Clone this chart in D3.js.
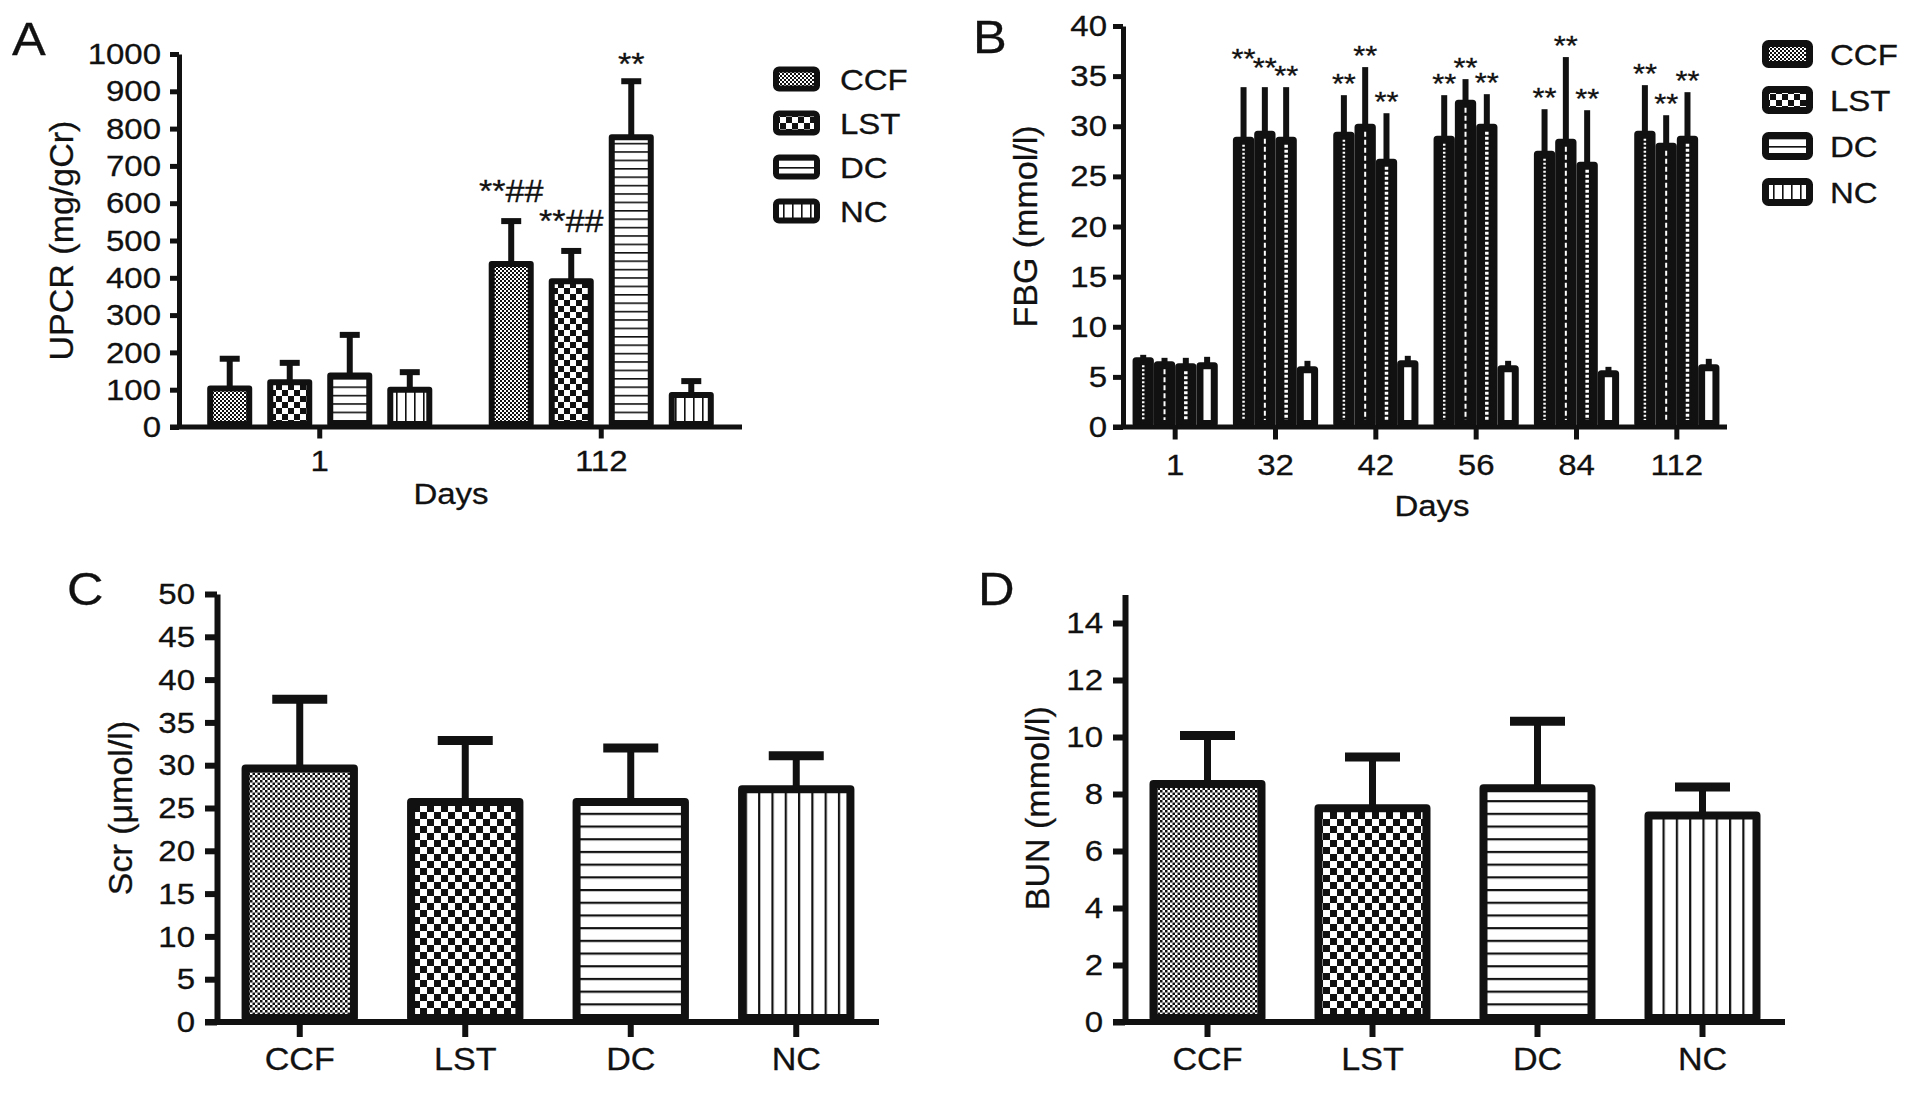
<!DOCTYPE html>
<html>
<head>
<meta charset="utf-8">
<script src="https://cdn.jsdelivr.net/npm/d3@7"></script>
<style>
  body { margin: 0; background: #fff; }
  svg text { font-family: "Liberation Sans", Arial, Helvetica, sans-serif; fill: #111; stroke: #111; stroke-width: 0.3px; }
</style>
</head>
<body>
<svg id="fig" width="1913" height="1099"></svg>
<script>
// ---- data ----
const GROUPS = ["CCF", "LST", "DC", "NC"];

const UPCR_DAYS = ["1", "112"];
const UPCR_MEAN = [[103, 120, 138, 100], [437, 391, 777, 86]];
const UPCR_SD = [[80, 52, 109, 47], [115, 81, 150, 37]];
const UPCR_SIG = [["", "", "", ""], ["**##", "**##", "**", ""]];
const UPCR_TICKS = [0, 100, 200, 300, 400, 500, 600, 700, 800, 900, 1000];

const FBG_DAYS = ["1", "32", "42", "56", "84", "112"];
const FBG_MEAN = [
  [6.6, 6.2, 6.0, 6.1],
  [28.6, 29.2, 28.6, 5.7],
  [29.1, 29.9, 26.4, 6.3],
  [28.7, 32.3, 29.9, 5.8],
  [27.2, 28.4, 26.1, 5.3],
  [29.2, 28.0, 28.7, 5.9]
];
const FBG_SD = [
  [0.6, 0.7, 0.9, 0.9],
  [5.3, 4.7, 5.3, 0.9],
  [4.0, 6.0, 4.9, 0.8],
  [4.4, 2.4, 3.3, 0.8],
  [4.5, 8.5, 5.5, 0.7],
  [4.9, 3.1, 4.7, 0.9]
];
const FBG_SIG = [
  ["", "", "", ""],
  ["**", "**", "**", ""],
  ["**", "**", "**", ""],
  ["**", "**", "**", ""],
  ["**", "**", "**", ""],
  ["**", "**", "**", ""]
];
const FBG_TICKS = [0, 5, 10, 15, 20, 25, 30, 35, 40];

const SCR_MEAN = [29.6, 25.7, 25.7, 27.2];
const SCR_SD = [8.1, 7.2, 6.3, 3.9];
const SCR_TICKS = [0, 5, 10, 15, 20, 25, 30, 35, 40, 45, 50];

const BUN_MEAN = [8.35, 7.5, 8.2, 7.25];
const BUN_SD = [1.7, 1.8, 2.35, 1.0];
const BUN_TICKS = [0, 2, 4, 6, 8, 10, 12, 14];

// ---- drawing ----
const INK = "#111";
const FONT = '"Liberation Sans", Arial, Helvetica, sans-serif';
const SX = 1.1;            // the source figure's lettering is slightly wide
const svg = d3.select("#fig");
const defs = svg.append("defs");

// widen horizontal text around its own anchor
function stretch(sel) {
  sel.each(function () {
    const t = d3.select(this);
    const x = +t.attr("x") || 0;
    t.attr("x", x / SX).attr("transform", `scale(${SX},1)`);
  });
}

function addPattern(id, w, h, draw) {
  const p = defs.append("pattern").attr("id", id)
    .attr("patternUnits", "userSpaceOnUse").attr("width", w).attr("height", h);
  p.append("rect").attr("width", w).attr("height", h).attr("fill", "#fff");
  draw(p);
}
function checker(p, s) {
  const h = s / 2;
  p.append("rect").attr("width", h).attr("height", h).attr("fill", INK);
  p.append("rect").attr("x", h).attr("y", h).attr("width", h).attr("height", h).attr("fill", INK);
}
function patternSet(key, s) {
  addPattern(`CCF-${key}`, s.fine, s.fine, p => checker(p, s.fine));
  addPattern(`LST-${key}`, s.check, s.check, p => checker(p, s.check));
  addPattern(`DC-${key}`, 10, s.hline, p =>
    p.append("rect").attr("width", 10).attr("height", s.lw).attr("fill", INK));
  addPattern(`NC-${key}`, s.vline, 10, p =>
    p.append("rect").attr("width", s.lw).attr("height", 10).attr("fill", INK));
}
patternSet("s", { fine: 4, check: 12, hline: 8.4, vline: 9, lw: 1.6 });
patternSet("l", { fine: 5, check: 14, hline: 12.7, vline: 13.3, lw: 2.2 });

// white centre stripes used for the narrow, mostly black bars of panel B
const STRIPE = {
  CCF: { dash: "2,2", w: 2.5 },
  LST: { dash: "5,3", w: 2 },
  DC: { dash: "3,2", w: 3.5 }
};

function drawAxes(g, cfg, x, y) {
  const ya = g.append("g").attr("transform", `translate(${cfg.x},0)`)
    .call(d3.axisLeft(y).tickValues(cfg.ticks).tickFormat(d => String(d))
      .tickSize(cfg.tickLen).tickSizeOuter(0).tickPadding(cfg.yPad));
  ya.attr("font-family", FONT).attr("font-size", cfg.tickFs);
  ya.select(".domain").attr("stroke", INK).attr("stroke-width", cfg.axisW);
  ya.selectAll(".tick line").attr("stroke", INK).attr("stroke-width", cfg.axisW);
  ya.selectAll(".tick text").attr("fill", INK).call(stretch);

  g.append("line")
    .attr("x1", cfg.x - cfg.tickLen).attr("x2", cfg.xEnd)
    .attr("y1", cfg.y0).attr("y2", cfg.y0)
    .attr("stroke", INK).attr("stroke-width", cfg.axisW);

  const xa = g.append("g").attr("transform", `translate(0,${cfg.y0})`)
    .call(d3.axisBottom(x).tickSize(cfg.tickLen + cfg.axisW / 2).tickSizeOuter(0));
  xa.select(".domain").remove();
  xa.attr("font-family", FONT).attr("font-size", cfg.xTickFs);
  xa.selectAll(".tick line").attr("stroke", INK).attr("stroke-width", cfg.axisW);
  xa.selectAll(".tick text").attr("fill", INK).attr("dy", null)
    .attr("y", cfg.xTickBase - cfg.y0).call(stretch);

  g.append("text")
    .attr("transform", `translate(${cfg.yLabelX},${(cfg.y0 + cfg.yTop) / 2}) rotate(-90)`)
    .attr("text-anchor", "middle").attr("dy", "0.35em")
    .attr("font-size", cfg.yLabelFs).text(cfg.yLabel);

  if (cfg.xLabel) {
    g.append("text").attr("x", cfg.xLabelX).attr("y", cfg.xLabelBase)
      .attr("text-anchor", "middle").attr("font-size", cfg.xLabelFs).text(cfg.xLabel)
      .call(stretch);
  }
  g.append("text").attr("x", cfg.letterX).attr("y", cfg.letterY)
    .attr("font-size", 46).text(cfg.letter).call(stretch);
}

function drawErrors(g, cfg, rows, cx, y) {
  g.selectAll("line.err").data(rows).join("line").attr("class", "err")
    .attr("x1", cx).attr("x2", cx)
    .attr("y1", r => y(r.m)).attr("y2", r => y(r.m + r.e))
    .attr("stroke", INK).attr("stroke-width", cfg.errW);
  if (cfg.capW > 0) {
    g.selectAll("line.cap").data(rows).join("line").attr("class", "cap")
      .attr("x1", r => cx(r) - cfg.capW / 2).attr("x2", r => cx(r) + cfg.capW / 2)
      .attr("y1", r => y(r.m + r.e)).attr("y2", r => y(r.m + r.e))
      .attr("stroke", INK).attr("stroke-width", cfg.capT);
  }
}

function drawLegend(g, cfg) {
  const L = cfg.legend;
  const items = g.selectAll("g.leg").data(GROUPS).join("g").attr("class", "leg")
    .attr("transform", (d, i) => `translate(0,${L.y + i * L.step})`);
  items.append("rect")
    .attr("x", L.x + L.sw / 2).attr("y", -L.h / 2 + L.sw / 2)
    .attr("width", L.w - L.sw).attr("height", L.h - L.sw)
    .attr("rx", 3).attr("fill", d => `url(#${d}-s)`)
    .attr("stroke", INK).attr("stroke-width", L.sw).attr("stroke-linejoin", "round");
  items.append("text").attr("x", L.tx).attr("dy", "0.36em")
    .attr("font-size", L.fs).text(d => d).call(stretch);
}

// place significance marks above their error bars, lifting any that would collide
function layoutSig(list, fs) {
  const byDay = d3.group(list, r => r.day);
  byDay.forEach(items => {
    items.sort((a, b) => a.cx - b.cx);
    for (let i = items.length - 2; i >= 0; i--) {
      const a = items[i], b = items[i + 1];
      const hit = Math.abs(a.cx - b.cx) < (a.w + b.w) / 2 && Math.abs(a.by - b.by) < 0.55 * fs;
      if (hit) a.by = Math.min(a.by, b.by - 0.3 * fs);
    }
  });
  return list;
}

function drawGrouped(cfg, days, mean, sd, sig) {
  const g = svg.append("g");
  const y = d3.scaleLinear().domain(cfg.domain).range([cfg.y0, cfg.yTop]);
  const x0 = d3.scaleBand().domain(days).range([cfg.x + cfg.bandShift, cfg.xEnd]);
  const x1 = d3.scaleBand().domain(GROUPS).range([0, x0.bandwidth()])
    .paddingInner(cfg.padIn).paddingOuter(cfg.padOut);
  const rows = [];
  days.forEach((d, i) => GROUPS.forEach((s, j) =>
    rows.push({ day: d, grp: s, m: mean[i][j], e: sd[i][j], sig: sig[i][j] })));
  const left = r => x0(r.day) + x1(r.grp);
  const cx = r => left(r) + x1.bandwidth() / 2;

  g.selectAll("rect.bar").data(rows).join("rect").attr("class", "bar")
    .attr("x", r => left(r) + cfg.barW / 2)
    .attr("width", x1.bandwidth() - cfg.barW)
    .attr("y", r => y(r.m))
    .attr("height", r => y(0) - y(r.m) - cfg.barW / 2)
    .attr("fill", r => cfg.solid ? (r.grp === "NC" ? "#fff" : INK) : `url(#${r.grp}-${cfg.key})`)
    .attr("stroke", INK).attr("stroke-width", cfg.barW).attr("stroke-linejoin", "round");

  if (cfg.solid) {
    g.selectAll("line.stripe").data(rows.filter(r => STRIPE[r.grp])).join("line")
      .attr("class", "stripe")
      .attr("x1", cx).attr("x2", cx)
      .attr("y1", r => y(r.m) + cfg.barW / 2 + 1).attr("y2", y(0) - cfg.barW)
      .attr("stroke", "#fff").attr("stroke-width", r => STRIPE[r.grp].w)
      .attr("stroke-dasharray", r => STRIPE[r.grp].dash);
  }

  drawErrors(g, cfg, rows, cx, y);

  const fs = cfg.sigFs;
  const marks = layoutSig(rows.filter(r => r.sig).map(r => {
    const stars = (r.sig.match(/\*/g) || []).length;
    const hashes = (r.sig.match(/#/g) || []).length;
    return {
      day: r.day, sig: r.sig, cx: cx(r),
      w: fs * SX * (0.389 * stars + 0.556 * hashes),
      by: y(r.m + r.e) - cfg.sigGap + (hashes ? 0 : 0.42 * fs)
    };
  }), fs);
  g.selectAll("text.sig").data(marks).join("text").attr("class", "sig")
    .attr("x", d => d.cx).attr("y", d => d.by)
    .attr("text-anchor", "middle").attr("font-size", fs)
    .text(d => d.sig).call(stretch);

  drawAxes(g, cfg, x0, y);
  drawLegend(g, cfg);
}

function drawSimple(cfg, mean, sd) {
  const g = svg.append("g");
  const y = d3.scaleLinear().domain(cfg.domain).range([cfg.y0, cfg.yTop]);
  const x = d3.scaleBand().domain(GROUPS).range([cfg.x, cfg.xEnd])
    .paddingInner(cfg.padIn).paddingOuter(cfg.padIn / 2);
  const rows = GROUPS.map((s, j) => ({ grp: s, m: mean[j], e: sd[j] }));
  const cx = r => x(r.grp) + x.bandwidth() / 2;

  g.selectAll("rect.bar").data(rows).join("rect").attr("class", "bar")
    .attr("x", r => x(r.grp) + cfg.barW / 2)
    .attr("width", x.bandwidth() - cfg.barW)
    .attr("y", r => y(r.m))
    .attr("height", r => y(0) - y(r.m) - cfg.barW / 2)
    .attr("fill", r => `url(#${r.grp}-l)`)
    .attr("stroke", INK).attr("stroke-width", cfg.barW).attr("stroke-linejoin", "round");

  drawErrors(g, cfg, rows, cx, y);
  drawAxes(g, cfg, x, y);
}

drawGrouped({
  key: "s", solid: false, x: 179, bandShift: 0, xEnd: 742, y0: 427, yTop: 54,
  domain: [0, 1000], ticks: UPCR_TICKS, tickLen: 9, axisW: 5, yPad: 9,
  tickFs: 30, xTickFs: 30, xTickBase: 471,
  barW: 6, errW: 6, capW: 20, capT: 6, padIn: 0.25, padOut: 0.47,
  sigFs: 31, sigGap: 19,
  yLabel: "UPCR (mg/gCr)", yLabelX: 61, yLabelFs: 34,
  xLabel: "Days", xLabelX: 451, xLabelBase: 504, xLabelFs: 30,
  letter: "A", letterX: 12, letterY: 55,
  legend: { x: 773, w: 47, h: 25, sw: 6, y: 79, step: 44, tx: 840, fs: 30 }
}, UPCR_DAYS, UPCR_MEAN, UPCR_SD, UPCR_SIG);

drawGrouped({
  key: "s", solid: true, x: 1123, bandShift: 2, xEnd: 1727, y0: 427, yTop: 26,
  domain: [0, 40], ticks: FBG_TICKS, tickLen: 10, axisW: 5, yPad: 6,
  tickFs: 30, xTickFs: 30, xTickBase: 475,
  barW: 7, errW: 6, capW: 0, capT: 0, padIn: 0, padOut: 0.355,
  sigFs: 28, sigGap: 14,
  yLabel: "FBG (mmol/l)", yLabelX: 1025, yLabelFs: 34,
  xLabel: "Days", xLabelX: 1432, xLabelBase: 516, xLabelFs: 30,
  letter: "B", letterX: 973, letterY: 53,
  legend: { x: 1762, w: 51, h: 28, sw: 7, y: 54, step: 46, tx: 1830, fs: 30 }
}, FBG_DAYS, FBG_MEAN, FBG_SD, FBG_SIG);

drawSimple({
  x: 217, xEnd: 879, y0: 1022, yTop: 594, domain: [0, 50], ticks: SCR_TICKS,
  tickLen: 12, axisW: 6, yPad: 10, tickFs: 30, xTickFs: 31, xTickBase: 1070,
  barW: 8, errW: 7, capW: 55, capT: 9, padIn: 0.297,
  yLabel: "Scr (μmol/l)", yLabelX: 120, yLabelFs: 34,
  letter: "C", letterX: 67, letterY: 605
}, SCR_MEAN, SCR_SD);

drawSimple({
  x: 1125, xEnd: 1785, y0: 1022, yTop: 594.5, domain: [0, 15], ticks: BUN_TICKS,
  tickLen: 12, axisW: 6, yPad: 10, tickFs: 30, xTickFs: 31, xTickBase: 1070,
  barW: 8, errW: 7, capW: 55, capT: 9, padIn: 0.297,
  yLabel: "BUN (mmol/l)", yLabelX: 1037, yLabelFs: 34,
  letter: "D", letterX: 978, letterY: 605
}, BUN_MEAN, BUN_SD);
</script>
</body>
</html>
